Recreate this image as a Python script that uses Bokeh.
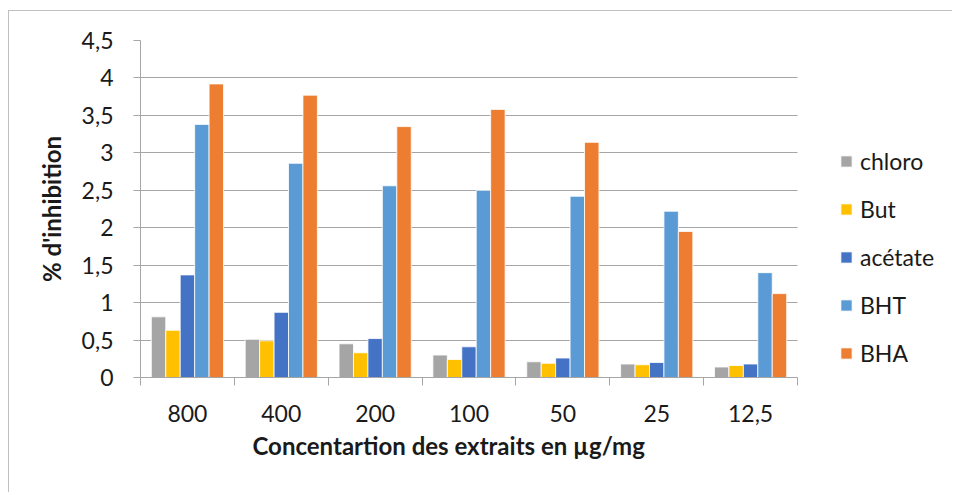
from bokeh.plotting import figure
from bokeh.models import FixedTicker, Legend, LegendItem, Range1d, Title
from bokeh.embed import file_html
from bokeh.resources import INLINE
import numpy as np

categories = ["800", "400", "200", "100", "50", "25", "12,5"]
series_names = ["chloro", "But", "acétate", "BHT", "BHA"]
chloro = [0.81, 0.51, 0.45, 0.30, 0.21, 0.18, 0.14]
but = [0.63, 0.49, 0.33, 0.24, 0.19, 0.17, 0.16]
acetate = [1.37, 0.87, 0.52, 0.41, 0.26, 0.20, 0.18]
bht = [3.38, 2.86, 2.56, 2.50, 2.42, 2.22, 1.40]
bha = [3.92, 3.77, 3.35, 3.58, 3.14, 1.95, 1.12]
colors = ["#A5A5A5", "#FFC000", "#4472C4", "#5B9BD5", "#ED7D31"]
y_ticks = [0, 0.5, 1, 1.5, 2, 2.5, 3, 3.5, 4, 4.5]
y_tick_labels = ["0", "0,5", "1", "1,5", "2", "2,5", "3", "3,5", "4", "4,5"]
x_title = "Concentartion des extraits en µg/mg"
y_title = "% d'inhibition"

FONT = "Lato"
TXT = "#1a1a1a"
GRID = "#a6a6a6"

n = len(categories)
# the frame also holds the legend area on the right (1.662 category widths)
x_start, x_end = -0.5, n - 0.5 + 1.662

p = figure(width=944, height=482, output_backend="svg", toolbar_location=None,
           x_range=Range1d(x_start, x_end), y_range=Range1d(0, 4.5),
           min_border_left=131, min_border_right=0, min_border_top=29, min_border_bottom=116)
p.styles = {"margin-left": "8px", "margin-top": "10px",
            "border-left": "1px solid #c0c0c0", "border-top": "1px solid #c0c0c0"}
p.outline_line_color = None

xs = np.arange(n)
bw = 1 / 6.5
renderers = []
for i, (vals, c) in enumerate(zip([chloro, but, acetate, bht, bha], colors)):
    r = p.vbar(x=xs + (i - 2) * bw, top=vals, width=bw, bottom=0,
               fill_color=c, line_color="white", line_width=0.8)
    renderers.append(r)

# y axis
p.yaxis.ticker = FixedTicker(ticks=y_ticks)
p.yaxis.major_label_overrides = {t: l for t, l in zip(y_ticks, y_tick_labels)}
p.yaxis.axis_line_color = GRID
p.yaxis.major_tick_line_color = GRID
p.yaxis.major_tick_out = 7
p.yaxis.major_tick_in = 0
p.yaxis.minor_tick_line_color = None
p.yaxis.major_label_text_font = FONT
p.yaxis.major_label_text_font_size = "23px"
p.yaxis.major_label_text_color = TXT
p.yaxis.major_label_standoff = 20
p.yaxis.axis_label = y_title
p.yaxis.axis_label_text_font = FONT
p.yaxis.axis_label_text_font_style = "bold"
p.yaxis.axis_label_text_font_size = "24px"
p.yaxis.axis_label_text_color = TXT
p.yaxis.axis_label_standoff = 13

# x axis (limited to the categories)
p.xaxis.bounds = (-0.5, n - 0.5)
p.xaxis.ticker = FixedTicker(ticks=list(range(n)), minor_ticks=list(np.arange(-0.5, n, 1.0)))
p.xaxis.major_label_overrides = {i: c for i, c in enumerate(categories)}
p.xaxis.axis_line_color = GRID
p.xaxis.major_tick_line_color = None
p.xaxis.major_tick_out = 0
p.xaxis.major_tick_in = 0
p.xaxis.minor_tick_line_color = GRID
p.xaxis.minor_tick_out = 8
p.xaxis.minor_tick_in = 0
p.xaxis.major_label_text_font = FONT
p.xaxis.major_label_text_font_size = "23px"
p.xaxis.major_label_text_color = TXT
p.xaxis.major_label_standoff = 19

p.add_layout(Title(text=x_title, align="left", offset=112, standoff=8,
                   text_font=FONT, text_font_style="bold", text_font_size="24px",
                   text_color=TXT), "below")

p.xgrid.grid_line_color = None
p.ygrid.ticker = FixedTicker(ticks=y_ticks)
p.ygrid.grid_line_color = GRID
p.ygrid.grid_line_width = 1
try:
    p.ygrid.cross_bounds = (-0.5, n - 0.5)
except Exception:
    p.ygrid.grid_line_color = None
    p.segment(x0=-0.5, x1=n - 0.5, y0=y_ticks[1:], y1=y_ticks[1:], line_color=GRID, line_width=1,
              level="underlay")

legend = Legend(items=[LegendItem(label=nm, renderers=[r]) for nm, r in zip(series_names, renderers)],
                location=(699, 10), orientation="vertical",
                glyph_width=14, glyph_height=14, label_height=28, spacing=20,
                label_standoff=7, padding=0, margin=0,
                border_line_color=None, background_fill_alpha=0,
                label_text_font=FONT, label_text_font_size="23px", label_text_color=TXT)
p.add_layout(legend, "center")

open("out.html", "w").write(file_html(p, INLINE))
